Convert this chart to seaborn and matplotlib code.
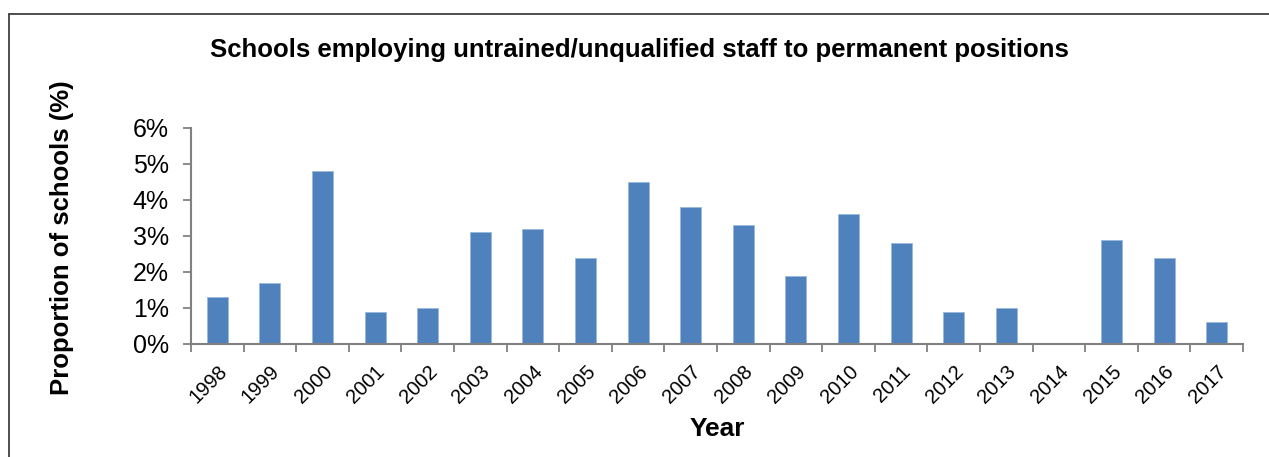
import numpy as np
import pandas as pd
import matplotlib
matplotlib.use("Agg")
import matplotlib.pyplot as plt
from matplotlib.lines import Line2D
from matplotlib.ticker import FuncFormatter, FixedLocator
import seaborn as sns

# Data
years = [str(y) for y in range(1998, 2018)]
proportion = [1.3, 1.7, 4.8, 0.9, 1.0, 3.1, 3.2, 2.4, 4.5, 3.8,
              3.3, 1.9, 3.6, 2.8, 0.9, 1.0, 0.0, 2.9, 2.4, 0.6]
y_ticks = [0, 1, 2, 3, 4, 5, 6]

BAR_COLOR = "#4F81BD"
AXIS_COLOR = "#808080"

sns.set_theme(style="white")
plt.rcParams["font.family"] = ["Liberation Sans", "DejaVu Sans"]
plt.rcParams["text.color"] = "black"
plt.rcParams["xtick.labelcolor"] = "black"
plt.rcParams["ytick.labelcolor"] = "black"
plt.rcParams["axes.labelcolor"] = "black"

df = pd.DataFrame({"year": years, "proportion": proportion})

fig = plt.figure(figsize=(12.69, 4.57), dpi=100)
ax = fig.add_axes([0.1505, 0.2473, 0.8290, 0.4727])

sns.barplot(data=df, x="year", y="proportion", color=BAR_COLOR,
            width=0.4, saturation=1, edgecolor="#9ab8dd", linewidth=0.6, ax=ax)

ax.set_ylim(0, 6)
ax.set_xlim(-0.5, len(years) - 0.5)
ax.yaxis.set_major_locator(FixedLocator(y_ticks))
ax.yaxis.set_major_formatter(FuncFormatter(lambda v, p: f"{v:.0f}%"))

# ticks between categories
ax.set_xticks(np.arange(len(years) + 1) - 0.5, minor=True)
ax.tick_params(axis="x", which="major", length=0, pad=13)
ax.tick_params(axis="x", which="minor", length=6, width=1.3, color=AXIS_COLOR, bottom=True)
ax.tick_params(axis="y", which="major", length=6, width=1.3, color=AXIS_COLOR, left=True, pad=10)
plt.setp(ax.get_xticklabels(), rotation=45, ha="right", rotation_mode="anchor", fontsize=14.5)
plt.setp(ax.get_yticklabels(), fontsize=18)

for side in ["top", "right"]:
    ax.spines[side].set_visible(False)
for side in ["left", "bottom"]:
    ax.spines[side].set_color(AXIS_COLOR)
    ax.spines[side].set_linewidth(1.5)

ax.set_xlabel("Year", fontsize=19, fontweight="bold", labelpad=7)
ax.set_ylabel("")
fig.text(0.049, 0.48, "Proportion of schools (%)", rotation=90, fontsize=18.5,
         fontweight="bold", ha="center", va="center")
fig.text(0.504, 0.89, "Schools employing untrained/unqualified staff to permanent positions",
         fontsize=18.5, fontweight="bold", ha="center", va="center")

# outer frame (top and left edges visible)
fx = 9 / 1269
fy = 1 - 14 / 457
fig.add_artist(Line2D([fx, 1.0], [fy, fy], transform=fig.transFigure, color="#404040", lw=1.3))
fig.add_artist(Line2D([fx, fx], [0, fy], transform=fig.transFigure, color="#404040", lw=1.3))

fig.savefig("out.png", dpi=100)
